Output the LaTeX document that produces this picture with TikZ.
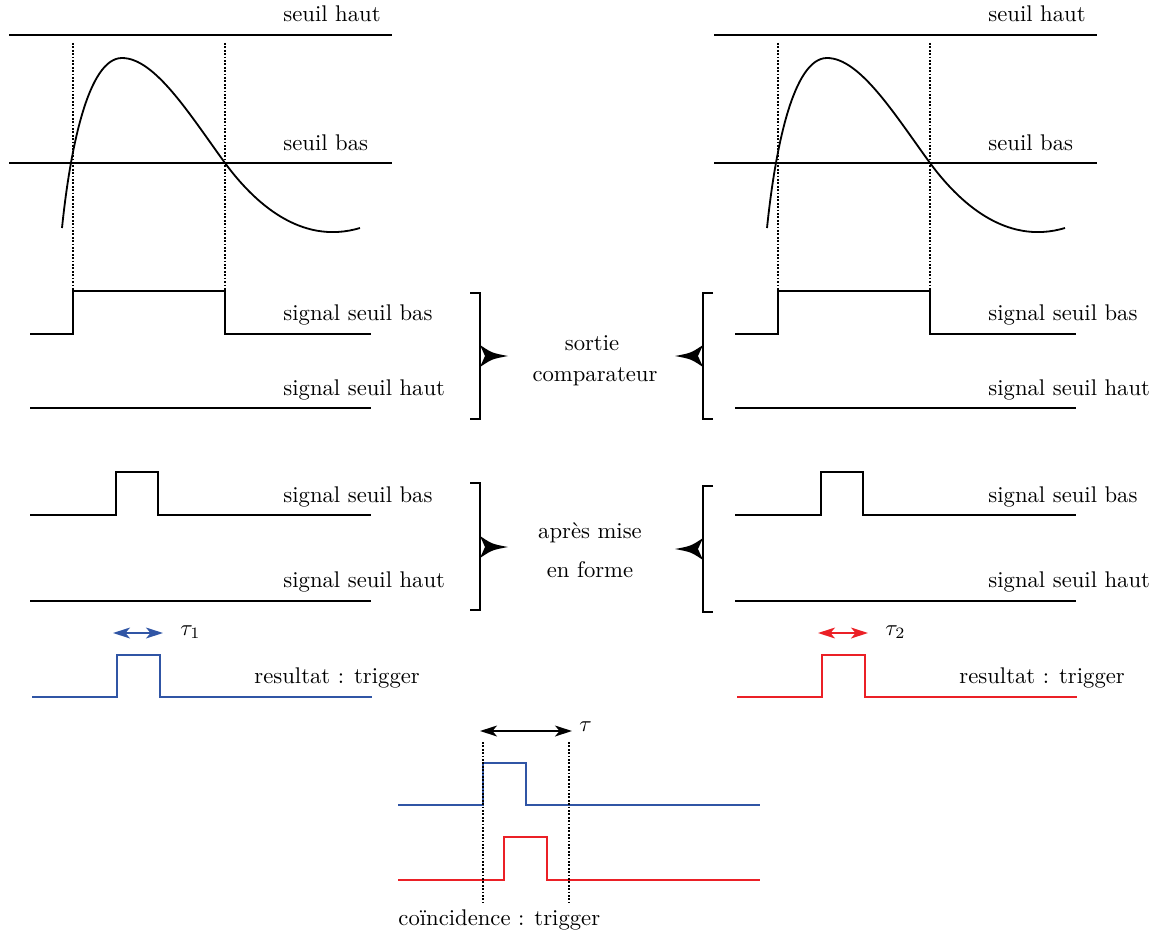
\documentclass[tikz,border=0pt]{standalone}
\usetikzlibrary{arrows.meta}
\definecolor{sigblue}{RGB}{48,85,165}
\definecolor{sigred}{RGB}{235,32,38}
\begin{document}
\begin{tikzpicture}[x=0.441pt,y=-0.441pt,
  sig/.style={thick},
  guide/.style={line width=0.75pt, dash pattern=on 0.75pt off 0.75pt},
  lbl/.style={anchor=base west, inner sep=0pt},
  ctr/.style={anchor=base, inner sep=0pt},
  brk/.style={thick},
  dbl/.style={thick,{Stealth[length=7.5pt,width=4.8pt,inset=2pt]}-{Stealth[length=7.5pt,width=4.8pt,inset=2pt]}},
  brarrow/.pic={\fill (0,-11) .. controls (12,-3) .. (28,0) .. controls (12,3) .. (0,11) -- (5,0) -- cycle;}
]
\useasboundingbox (0,0) rectangle (1158,932);

\foreach \s/\dx/\col/\t in {L/0/sigblue/1, R/705/sigred/2}{
\begin{scope}[shift={(\dx,0)}]
  \draw[sig] (9,35) -- (392,35);
  \node[lbl] (sh\s) at (283,22) {seuil haut};
  \draw[sig] (9,163) -- (392,163);
  \node[lbl] (sb\s) at (283,150) {seuil bas};
  \draw[sig] (62,228) .. controls (70,150) and (88,58) .. (122,58)
             .. controls (155,58) and (190,115) .. (225,163)
             .. controls (253,201) and (300,246) .. (360,228);
  \draw[guide] (73,43) -- (73,291);
  \draw[guide] (225,43) -- (225,291);
  \draw[sig] (30,334) -- (73,334) -- (73,291) -- (225,291) -- (225,334) -- (371,334);
  \node[lbl] (ab\s) at (283,320) {signal seuil bas};
  \draw[sig] (30,408) -- (371,408);
  \node[lbl] (ah\s) at (283,395) {signal seuil haut};
  \draw[sig] (30,515) -- (116,515) -- (116,472) -- (158,472) -- (158,515) -- (371,515);
  \node[lbl] (fb\s) at (283,502) {signal seuil bas};
  \draw[sig] (30,601) -- (371,601);
  \node[lbl] (fh\s) at (283,587) {signal seuil haut};
  \coordinate (ta\s) at (113,633);
  \coordinate (tb\s) at (163,633);
  \draw[dbl,\col] (ta\s) -- (tb\s);
  \node[lbl] (tl\s) at (180,635) {$\tau_\t$};
  \draw[sig,\col] (32,697) -- (117,697) -- (117,655) -- (160,655) -- (160,697) -- (372,697);
  \node[lbl] (rt\s) at (254,683) {resultat : trigger};
\end{scope}
}

% brackets and arrows
\draw[brk] (470,293) -- (480,293) -- (480,419) -- (470,419);
\draw[brk] (713,293) -- (703,293) -- (703,419) -- (713,419);
\draw[brk] (470,483) -- (480,483) -- (480,610) -- (470,610);
\draw[brk] (713,486) -- (703,486) -- (703,612) -- (713,612);
\coordinate (b1L) at (480,356);
\coordinate (b1R) at (703,356);
\coordinate (b2L) at (480,547);
\coordinate (b2R) at (703,549);
\pic at (b1L) {brarrow};
\pic[xscale=-1] at (b1R) {brarrow};
\pic at (b2L) {brarrow};
\pic[xscale=-1] at (b2R) {brarrow};

\node[ctr] (c1a) at (592,350) {sortie};
\node[ctr] (c1b) at (595,381) {comparateur};
\node[ctr] (c2a) at (590,538) {après mise};
\node[ctr] (c2b) at (590,577) {en forme};

% coincidence
\draw[sig,sigblue] (398,805) -- (483,805) -- (483,763) -- (526,763) -- (526,805) -- (760,805);
\draw[sig,sigred] (398,880) -- (504,880) -- (504,837) -- (547,837) -- (547,880) -- (760,880);
\draw[guide] (483,742) -- (483,902);
\draw[guide] (569,742) -- (569,902);
\coordinate (tca) at (480,731);
\coordinate (tcb) at (572,731);
\draw[dbl] (tca) -- (tcb);
\node[lbl] (tau) at (579,731) {$\tau$};
\node[lbl] (coin) at (398,925) {coïncidence : trigger};
\end{tikzpicture}
\end{document}
